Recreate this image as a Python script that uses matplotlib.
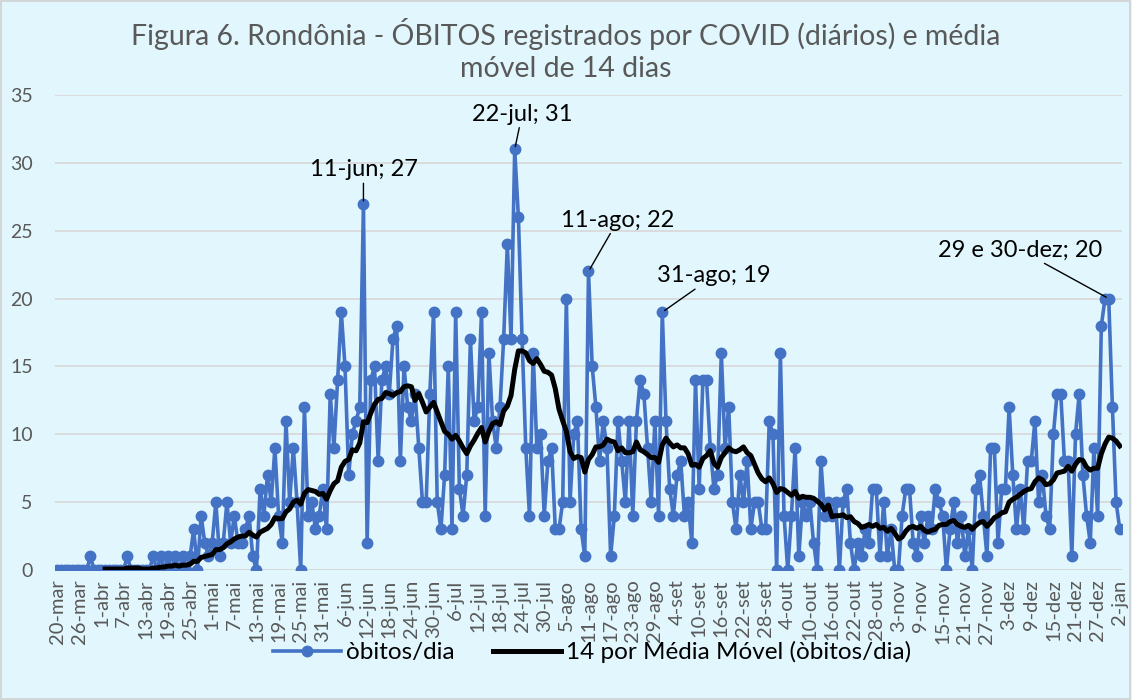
import matplotlib
matplotlib.use("Agg")
import matplotlib.pyplot as plt
import pandas as pd
from matplotlib.patches import Rectangle

plt.rcParams['font.family'] = ['Lato', 'DejaVu Sans']

# daily deaths, 20-mar-2020 .. 2-jan-2021
obitos = [
    0, 0, 0, 0, 0, 0, 0, 0, 0, 1, 0, 0,            # 20-31 mar
    0, 0, 0, 0, 0, 0, 0, 1, 0, 0, 0, 0,            # 1-12 abr
    0, 0, 1, 0, 1, 0, 1, 0, 1, 0, 1, 0,            # 13-24 abr
    1, 3, 0, 4, 2, 1, 2, 5, 1, 2, 5, 2,            # 25 abr - 6 mai
    4, 2, 2, 3, 4, 1, 0, 6, 4, 7, 5, 9,            # 7-18 mai
    4, 2, 11, 5, 9, 5, 0, 12, 4, 5, 3, 4,          # 19-30 mai
    6, 3, 13, 9, 14, 19, 15, 7, 10, 11, 12, 27,    # 31 mai - 11 jun
    2, 14, 15, 8, 14, 15, 13, 17, 18, 8, 15, 12,   # 12-23 jun
    11, 13, 9, 5, 5, 13, 19, 5, 3, 7, 15, 3,       # 24 jun - 5 jul
    19, 6, 4, 7, 17, 11, 12, 19, 4, 16, 11, 9,     # 6-17 jul
    12, 17, 24, 17, 31, 26, 17, 9, 4, 16, 9, 10,   # 18-29 jul
    4, 8, 9, 3, 3, 5, 20, 5, 10, 11, 3, 1,         # 30 jul - 10 ago
    22, 15, 12, 8, 11, 9, 1, 4, 11, 8, 5, 11,      # 11-22 ago
    4, 11, 14, 13, 9, 5, 11, 4, 19, 11, 6, 4,      # 23 ago - 3 set
    7, 8, 4, 5, 2, 14, 6, 14, 14, 9, 6, 7,         # 4-15 set
    16, 9, 12, 5, 3, 7, 5, 8, 3, 5, 5, 3,          # 16-27 set
    3, 11, 10, 0, 16, 4, 0, 4, 9, 1, 5, 4,         # 28 set - 9 out
    5, 2, 0, 8, 4, 5, 4, 5, 0, 5, 6, 2,            # 10-21 out
    0, 2, 1, 3, 2, 6, 6, 1, 5, 1, 3, 0,            # 22 out - 2 nov
    0, 4, 6, 6, 2, 1, 4, 2, 4, 3, 6, 5,            # 3-14 nov
    4, 0, 3, 5, 2, 4, 1, 3, 0, 6, 7, 4,            # 15-26 nov
    1, 9, 9, 2, 6, 6, 12, 7, 3, 6, 3, 8,           # 27 nov - 8 dez
    8, 11, 5, 7, 4, 3, 10, 13, 13, 8, 8, 1,        # 9-20 dez
    10, 13, 7, 4, 2, 9, 4, 18, 20, 20, 12, 5,      # 21 dez - 1 jan
    3,                                             # 2 jan
]

tick_labels = [
    "20-mar", "26-mar", "1-abr", "7-abr", "13-abr", "19-abr", "25-abr",
    "1-mai", "7-mai", "13-mai", "19-mai", "25-mai", "31-mai", "6-jun",
    "12-jun", "18-jun", "24-jun", "30-jun", "6-jul", "12-jul", "18-jul",
    "24-jul", "30-jul", "5-ago", "11-ago", "17-ago", "23-ago", "29-ago",
    "4-set", "10-set", "16-set", "22-set", "28-set", "4-out", "10-out",
    "16-out", "22-out", "28-out", "3-nov", "9-nov", "15-nov", "21-nov",
    "27-nov", "3-dez", "9-dez", "15-dez", "21-dez", "27-dez", "2-jan",
]

# annotated peaks: (day index, label, text position in data coords)
destaques = [
    (83, "11-jun; 27", (83, 28.7)),
    (124, "22-jul; 31", (126, 32.8)),
    (144, "11-ago; 22", (152, 25.0)),
    (164, "31-ago; 19", (178, 20.9)),
    (285, "29 e 30-dez; 20", (261, 22.8)),
]

dias = pd.Series(obitos, dtype=float)
media_movel = dias.rolling(14).mean()
x = range(len(obitos))

BG = '#E1F7FD'
BLUE = '#4472C4'
GRAY = '#595959'

fig = plt.figure(figsize=(11.32, 7.0), dpi=100, facecolor=BG)
fig.patches.append(Rectangle((0.001, 0.001), 0.997, 0.997, transform=fig.transFigure,
                             fill=False, edgecolor='#D0D0D0', linewidth=1.2))
ax = fig.add_axes([55 / 1132, 130 / 700, 1067 / 1132, 475 / 700])
ax.set_facecolor(BG)

ax.plot(x, obitos, color=BLUE, linewidth=2.6, marker='o', markersize=7.5,
        label='òbitos/dia', zorder=3)
ax.plot(x, media_movel, color='black', linewidth=3.6,
        label='14 por Média Móvel (òbitos/dia)', zorder=4)

ax.set_xlim(-0.6, len(obitos) - 0.4)
ax.set_ylim(0, 35)
ax.set_yticks(range(0, 36, 5))
ax.grid(axis='y', color='#D9D9D9', linewidth=1.3)
ax.set_axisbelow(True)
ax.set_xticks(range(0, len(obitos), 6))
ax.set_xticklabels(tick_labels, rotation=90, fontsize=14.5, color=GRAY)
ax.tick_params(axis='y', labelsize=14, colors=GRAY, length=0, pad=16)
ax.tick_params(axis='x', length=0, pad=7)
for s in ax.spines.values():
    s.set_visible(False)
ax.axhline(0, color='#D9D9D9', linewidth=1.3, zorder=1)

for d, txt, pos in destaques:
    ax.annotate(txt, xy=(d, obitos[d]), xytext=pos, ha='center', va='bottom',
                fontsize=17, color='black',
                arrowprops=dict(arrowstyle='-', color='black', linewidth=1,
                                shrinkA=0, shrinkB=2))

fig.text(0.5, 0.951, "Figura 6. Rondônia - ÓBITOS registrados por COVID (diários) e média",
         ha='center', va='center', fontsize=20.5, color=GRAY)
fig.text(0.5, 0.901, "móvel de 14 dias", ha='center', va='center', fontsize=20.5, color=GRAY)

fig.legend(loc='center', bbox_to_anchor=(0.523, 0.068), ncol=2, frameon=False,
           fontsize=17.5, handlelength=2.8, columnspacing=1.6, handletextpad=0.2)

fig.savefig('out.png', dpi=100, facecolor=BG)
